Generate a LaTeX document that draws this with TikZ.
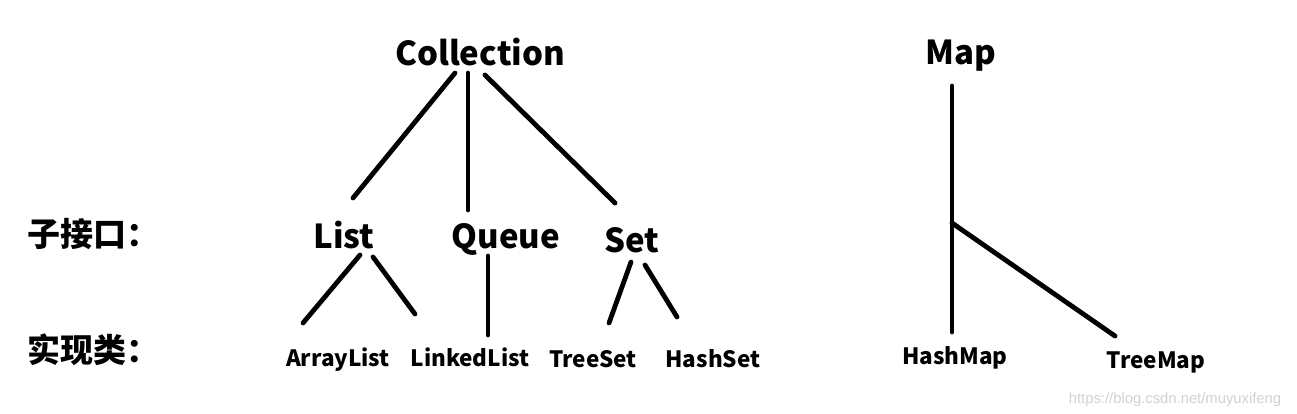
\documentclass[tikz,border=0pt]{standalone}
\usepackage{fontspec}
\usepackage{xcolor}
\usepackage{tikz}
\usetikzlibrary{positioning}
\newfontfamily\cjk{Noto Sans CJK SC}
\newfontfamily\marca{Liberation Sans}

\begin{document}
\begin{tikzpicture}[
  x=1pt, y=1pt,
  grande/.style={font=\cjk\bfseries\fontsize{33}{40}\selectfont, inner sep=0pt, anchor=base},
  chica/.style={font=\cjk\bfseries\fontsize{22.5}{26}\selectfont, inner sep=0pt, anchor=base},
  rama/.style={line width=4.8pt, line cap=round}
]
\useasboundingbox (0,0) rectangle (1297,413);

% raices
\node[grande] (coll) at (480,347) {Collection};
\node[grande] (map) at (961,348) {Map};

% etiquetas de fila
\node[grande, anchor=base west] (subint) at (27,167) {子接口：};
\node[grande, anchor=base west] (implcls) at (27,51) {实现类：};

% subinterfaces
\node[grande] (list) at (344,165) {List};
\node[grande] (queue) at (506,165) {Queue};
\node[grande] (set) at (632,161) {Set};

% implementaciones
\node[chica] (arraylist) at (338,47) {ArrayList};
\node[chica] (linkedlist) at (470,47) {LinkedList};
\node[chica] (treeset) at (593,46) {TreeSet};
\node[chica] (hashset) at (713,46) {HashSet};
\node[chica] (hashmap) at (955,49) {HashMap};
\node[chica] (treemap) at (1156,45) {TreeMap};

\draw[rama] ([shift={(-25,-7)}]coll.base) -- ([shift={(9,50)}]list.base);
\draw[rama] ([shift={(-12,-7)}]coll.base) -- ([shift={(-38,38)}]queue.base);
\draw[rama] ([shift={(5,-9)}]coll.base) -- ([shift={(-17,49)}]set.base);

\draw[rama] ([shift={(16,-7)}]list.base) -- ([shift={(-35,43)}]arraylist.base);
\draw[rama] ([shift={(29,-9)}]list.base) -- ([shift={(-55,52)}]linkedlist.base);
\draw[rama] ([shift={(-18,-8)}]queue.base) -- ([shift={(18,31)}]linkedlist.base);
\draw[rama] ([shift={(-1,-10)}]set.base) -- ([shift={(16,44)}]treeset.base);
\draw[rama] ([shift={(13,-13)}]set.base) -- ([shift={(-36,50)}]hashset.base);

\draw[rama] ([shift={(-9,-21)}]map.base) -- ([shift={(-3,32)}]hashmap.base);
\coordinate (mapfork) at (952,190);
\draw[rama] (mapfork) -- ([shift={(-41,32)}]treemap.base);

\node[font=\marca\fontsize{14.8}{18}\selectfont, text=black!18, inner sep=0pt, anchor=base]
  (marca) at (1175,10) {https://blog.csdn.net/muyuxifeng};
\end{tikzpicture}
\end{document}
